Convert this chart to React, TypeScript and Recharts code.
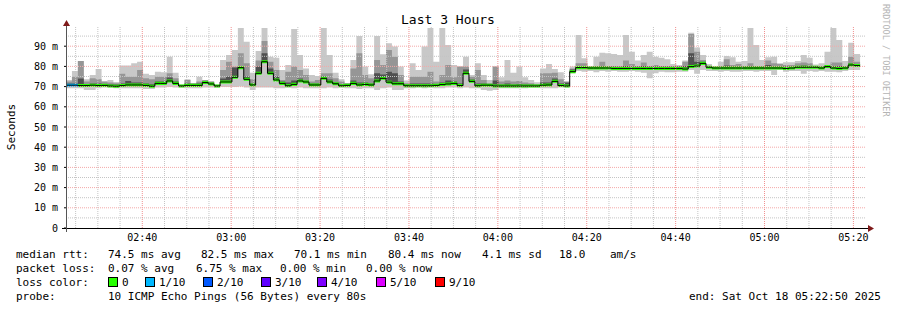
import { ComposedChart, Area, Line, XAxis, YAxis, ReferenceLine } from "recharts";

// 3 hours of 80 s steps, ending Sat Oct 18 05:22:50 2025
const START = 2 * 3600 + 22 * 60 + 50;
const STEP = 80;
const END = START + 3 * 3600;

// median rtt per step (ms)
const median = [
  70.7, 70.7, 70.5, 70.5, 70.7, 70.5, 70.6, 70.3, 70.2, 70.5, 70.8, 70.8, 70.8, 70.6, 70.2, 71.6,
  71.6, 72.8, 71.6, 70.3, 70.6, 70.6, 70.6, 72.0, 71.3, 70.3, 72.3, 72.3, 74.6, 79.4, 73.6, 70.8, 76.6, 82.3,
  76.6, 73.3, 71.6, 70.4, 71.1, 72.8, 72.3, 70.8, 70.8, 74.1, 72.3, 71.4, 70.4, 70.6, 71.6, 70.8, 71.1,
  70.8, 72.8, 74.1, 72.2, 71.4, 71.4, 70.4, 70.4, 70.4, 70.4, 70.4, 70.6, 71.0, 71.3, 71.6, 70.5, 76.6,
  72.6, 70.4, 70.7, 70.7, 70.3, 70.3, 70.3, 70.3, 70.3, 70.3, 70.3, 70.3, 70.7, 70.8, 72.6, 70.5, 70.3,
  77.4, 79.4, 79.4, 79.2, 79.2, 79.2, 79.2, 79.0, 79.0, 79.0, 79.0, 79.0, 79.0, 79.0, 79.0, 79.0,
  79.0, 79.0, 79.0, 78.7, 79.9, 80.2, 81.5, 79.6, 79.2, 79.2, 79.2, 79.2, 79.2, 79.2, 79.2, 79.2, 79.2,
  79.2, 79.2, 79.2, 79.0, 79.2, 79.6, 79.6, 79.6, 79.6, 79.2, 79.9, 79.2, 79.0, 79.2, 80.7, 80.4,
];

// smoke: slowest ping per step (ms)
const smokeMax = [
  73.3, 77.7, 82.7, 73.6, 75.7, 78.7, 72.5, 73.3, 72.3, 80.4, 80.4, 81.5, 82.3, 76.3, 75.7, 77.4,
  77.1, 84.8, 76.9, 71.0, 73.6, 71.6, 74.9, 73.3, 72.5, 71.0, 83.2, 85.6, 88.1, 99.0, 92.2, 76.9, 87.6, 99.0,
  84.8, 84.3, 78.2, 80.7, 98.5, 85.6, 79.0, 75.7, 75.2, 99.0, 85.6, 76.9, 73.6, 71.6, 83.2, 95.0, 79.9,
  76.1, 95.0, 86.0, 91.4, 89.8, 79.9, 73.0, 81.5, 78.2, 89.8, 99.0, 82.3, 99.0, 90.6, 80.7, 79.9, 84.8,
  75.7, 81.5, 75.7, 73.3, 79.9, 74.6, 83.2, 76.9, 79.9, 74.6, 73.3, 72.1, 79.0, 81.2, 78.7, 77.1, 72.8,
  79.9, 95.5, 84.0, 79.9, 84.8, 86.8, 86.5, 86.1, 85.6, 95.5, 87.3, 82.9, 85.6, 87.3, 84.8, 84.3,
  83.5, 81.2, 80.7, 82.9, 96.7, 89.3, 85.6, 81.2, 79.6, 82.3, 85.1, 84.5, 82.3, 82.7, 99.0, 90.6, 83.2,
  84.5, 84.8, 81.5, 82.0, 82.0, 82.7, 85.6, 84.3, 81.0, 81.5, 87.3, 99.0, 93.1, 82.7, 91.7, 86.1,
];

// smoke: upper edge of the middle pings (ms)
const smokeMid = [
  72.5, 74.9, 82.7, 72.5, 74.1, 73.6, 72.5, 72.0, 71.6, 76.3, 74.9, 74.9, 78.2, 74.1, 73.6, 74.9,
  74.9, 76.6, 74.1, 70.8, 73.3, 71.6, 72.5, 73.3, 72.5, 70.8, 78.2, 82.3, 79.9, 86.5, 81.5, 73.6, 82.9, 92.6,
  82.3, 78.2, 73.3, 77.4, 79.9, 78.2, 75.7, 72.5, 73.3, 76.6, 76.6, 74.1, 72.5, 71.6, 79.0, 86.5, 75.7,
  74.1, 83.2, 80.7, 88.1, 84.8, 75.7, 71.6, 74.9, 74.9, 74.9, 77.4, 72.5, 75.7, 80.7, 74.6, 79.9, 79.9,
  74.9, 78.2, 73.3, 71.6, 79.9, 72.5, 73.0, 72.5, 72.8, 72.0, 71.6, 71.3, 76.6, 76.6, 76.9, 73.6, 72.0,
  79.0, 81.5, 81.5, 79.4, 80.2, 82.3, 80.2, 80.2, 79.9, 82.9, 81.2, 80.2, 81.9, 80.2, 80.7, 80.2,
  80.2, 79.9, 80.2, 82.3, 96.0, 87.3, 83.2, 80.2, 79.4, 79.9, 83.5, 80.7, 81.2, 80.2, 81.5, 80.2, 79.9,
  82.9, 81.5, 81.2, 80.7, 80.7, 81.5, 81.9, 81.5, 80.2, 79.9, 80.2, 81.9, 81.9, 80.2, 84.8, 82.3,
];

// smoke: upper edge of the pings next to the median (ms)
const smokeDark = [
  71.5, 71.5, 74.0, 71.3, 71.5, 71.5, 71.3, 71.2, 71.0, 71.5, 72.8, 72.0, 72.0, 71.5, 71.2, 72.5,
  72.5, 74.5, 72.5, 70.8, 71.5, 71.3, 71.5, 72.8, 72.0, 70.8, 74.0, 75.0, 79.4, 80.0, 75.0, 71.5, 79.9, 86.5,
  79.0, 75.0, 72.5, 72.0, 73.0, 74.0, 73.0, 71.5, 71.5, 75.0, 73.5, 72.0, 71.0, 71.2, 73.0, 72.0, 72.0,
  71.5, 76.6, 76.0, 77.4, 76.6, 72.5, 71.0, 71.5, 71.5, 71.5, 71.5, 71.3, 72.0, 73.0, 72.5, 71.5, 78.5,
  73.5, 71.5, 71.5, 71.2, 73.0, 71.0, 71.5, 71.0, 71.3, 71.0, 71.0, 70.8, 72.0, 72.0, 74.0, 71.5, 72.0,
  78.5, 80.0, 80.2, 79.9, 79.9, 80.2, 79.9, 79.9, 79.9, 80.2, 79.9, 79.9, 80.2, 79.9, 79.9, 79.9,
  79.9, 79.9, 79.9, 80.2, 86.5, 82.3, 82.3, 80.2, 79.9, 79.9, 80.4, 79.9, 79.9, 79.9, 80.2, 79.9, 79.9,
  80.7, 79.9, 79.9, 79.9, 79.9, 80.2, 80.4, 80.2, 80.2, 79.9, 80.4, 80.2, 80.2, 79.9, 81.5, 81.2,
];

// smoke: fastest ping per step (ms)
const smokeMin = [
  69.2, 69.2, 69.2, 68.3, 68.3, 69.2, 69.5, 69.5, 69.2, 69.2, 69.2, 69.2, 69.2, 68.8, 68.8, 69.5,
  69.5, 69.8, 69.5, 69.5, 69.2, 69.2, 69.2, 69.5, 69.5, 69.5, 69.8, 69.8, 69.8, 70.0, 69.5, 68.3, 69.5, 69.5,
  69.5, 69.2, 69.2, 69.5, 69.2, 69.5, 69.2, 69.2, 69.2, 69.2, 69.5, 69.2, 69.5, 69.2, 69.2, 68.8, 69.2,
  69.2, 68.3, 69.2, 69.5, 68.3, 68.3, 69.2, 69.2, 69.5, 69.2, 69.5, 69.2, 69.2, 69.5, 69.5, 69.2, 69.5,
  69.2, 69.2, 68.3, 68.0, 68.3, 69.2, 69.2, 69.2, 69.2, 69.2, 69.5, 69.5, 69.2, 69.2, 69.2, 69.5, 69.5,
  76.6, 77.7, 77.4, 77.7, 77.1, 77.7, 77.4, 77.7, 77.4, 77.4, 77.7, 77.4, 76.9, 74.1, 76.6, 77.4,
  77.1, 77.1, 77.4, 77.4, 78.2, 76.3, 78.2, 77.7, 77.7, 77.4, 77.7, 77.4, 77.4, 77.7, 77.7, 77.4, 77.7,
  77.7, 75.7, 78.2, 77.4, 77.7, 77.7, 76.3, 77.7, 77.4, 77.7, 77.4, 77.4, 77.1, 77.7, 78.2, 78.2,
];

// lost pings (out of 10) per step; every step not listed lost none
const lostPings: Record<number, number> = { 0: 1, 1: 1 };

const lossLegend = [
  { label: "0", lost: 0, color: "#26ff00" },
  { label: "1/10", lost: 1, color: "#00b8ff" },
  { label: "2/10", lost: 2, color: "#0059ff" },
  { label: "3/10", lost: 3, color: "#5e00ff" },
  { label: "4/10", lost: 4, color: "#7e00ff" },
  { label: "5/10", lost: 5, color: "#dd00ff" },
  { label: "9/10", lost: 9, color: "#ff0000" },
];

const xTickLabels = ["02:40", "03:00", "03:20", "03:40", "04:00", "04:20", "04:40", "05:00", "05:20"];
const yTicks = [0, 10, 20, 30, 40, 50, 60, 70, 80, 90];

const MONO = "'DejaVu Sans Mono', 'Liberation Mono', monospace";

const toSec = (s: string) => {
  const [h, m] = s.split(":").map(Number);
  return h * 3600 + m * 60;
};
const fmtTime = (v: number) => {
  const h = Math.floor(v / 3600);
  const m = Math.floor((v % 3600) / 60);
  return `${String(h).padStart(2, "0")}:${String(m).padStart(2, "0")}`;
};

const majorX = xTickLabels.map(toSec);
const minorX: number[] = [];
for (let t = Math.ceil(START / 300) * 300; t < END; t += 300) {
  if (!majorX.includes(t)) minorX.push(t);
}
const minorY = [5, 15, 25, 35, 45, 55, 65, 75, 85, 95];
const majorY = yTicks.filter((v) => v > 0);

// one row per step, plus a closing row so the last step gets its width
const n = median.length;
const rows = Array.from({ length: n + 1 }, (_, i) => {
  const k = Math.min(i, n - 1);
  return {
    t: START + i * STEP,
    med: median[k],
    max: smokeMax[k],
    mid: smokeMid[k],
    dark: smokeDark[k],
    min: smokeMin[k],
  };
});

const colorFor = (lost: number) =>
  (lossLegend.find((l) => l.lost === lost) || lossLegend[0]).color;

const lossStops = median.flatMap((_, i) => {
  const c = colorFor(lostPings[i] || 0);
  return [
    <stop key={`a${i}`} offset={i / n} stopColor={c} />,
    <stop key={`b${i}`} offset={(i + 1) / n} stopColor={c} />,
  ];
});

const grid = (color: string) => ({ stroke: color, strokeDasharray: "1 1", strokeWidth: 1 });

const tickFont = { fontFamily: MONO, fontSize: 10, fill: "#000" };

export default function App() {
  return (
    <div style={{ position: "relative", width: 897, height: 310, background: "#fff" }}>
      <style>{"body{margin:0}"}</style>
      <ComposedChart
        width={897}
        height={310}
        data={rows}
        margin={{ top: 26, right: 31, bottom: 62, left: 8 }}
      >
        <defs>
          <linearGradient id="lossFill" x1="0" y1="0" x2="1" y2="0">
            {lossStops}
          </linearGradient>
        </defs>
        <XAxis
          dataKey="t"
          type="number"
          domain={[START, END]}
          allowDataOverflow
          ticks={majorX}
          interval={0}
          tickFormatter={fmtTime}
          height={20}
          axisLine={false}
          tickLine={false}
          tickSize={2}
          tickMargin={4}
          tick={tickFont}
        />
        <YAxis
          type="number"
          domain={[0, 100]}
          allowDataOverflow
          ticks={yTicks}
          interval={0}
          tickFormatter={(v: number) => (v === 0 ? "0" : `${v} m`)}
          width={58}
          axisLine={false}
          tickLine={{ stroke: "#000" }}
          tickSize={2}
          tickMargin={6}
          tick={tickFont}
        />
        <Area
          type="stepAfter"
          dataKey={(d: any) => [d.min, d.max]}
          fill="#c8c8c8"
          fillOpacity={1}
          stroke="none"
          isAnimationActive={false}
        />
        <Area
          type="stepAfter"
          dataKey={(d: any) => [d.med, d.mid]}
          fill="#969696"
          fillOpacity={1}
          stroke="none"
          isAnimationActive={false}
        />
        <Area
          type="stepAfter"
          dataKey={(d: any) => [d.med, d.dark]}
          fill="#505050"
          fillOpacity={1}
          stroke="none"
          isAnimationActive={false}
        />
        {minorX.map((x) => (
          <ReferenceLine key={`vx${x}`} x={x} {...grid("#c4c4c4")} />
        ))}
        {minorY.map((y) => (
          <ReferenceLine key={`hy${y}`} y={y} {...grid("#c4c4c4")} />
        ))}
        {majorX.map((x) => (
          <ReferenceLine key={`VX${x}`} x={x} {...grid("#f09090")} />
        ))}
        {majorY.map((y) => (
          <ReferenceLine key={`HY${y}`} y={y} {...grid("#f4a8a8")} />
        ))}
        <Line
          type="stepAfter"
          dataKey="med"
          stroke="#000"
          strokeWidth={1}
          dot={false}
          activeDot={false}
          isAnimationActive={false}
        />
        <Area
          type="stepAfter"
          dataKey={(d: any) => [d.med - 0.75, d.med + 0.75]}
          fill="url(#lossFill)"
          fillOpacity={1}
          stroke="none"
          isAnimationActive={false}
        />
      </ComposedChart>

      <svg
        width={897}
        height={310}
        style={{ position: "absolute", left: 0, top: 0, pointerEvents: "none" }}
        fontFamily={MONO}
      >
        {/* axes with arrows */}
        <line x1={62} y1={228.5} x2={870} y2={228.5} stroke="#000" />
        <line x1={66.5} y1={232} x2={66.5} y2={24} stroke="#555" />
        <path d="M868,225 L874,228.5 L868,232 Z" fill="#7f1a1a" />
        <path d="M63,26 L66.5,20 L70,26 Z" fill="#7f1a1a" />

        <text x={448} y={24} textAnchor="middle" fontSize={13} fill="#000">
          Last 3 Hours
        </text>
        <text
          x={0}
          y={0}
          transform="translate(15,127) rotate(-90)"
          textAnchor="middle"
          fontSize={11}
          fill="#000"
        >
          Seconds
        </text>
        <text x={0} y={0} transform="translate(883,4) rotate(90)" fontSize={8.5} fill="#b4b4b4">
          RRDTOOL / TOBI OETIKER
        </text>

        <g fontSize={11} fill="#000" style={{ whiteSpace: "pre" }}>
          <text y={258}>
            <tspan x={16}>median rtt:</tspan>
            <tspan x={108}>74.5 ms avg</tspan>
            <tspan x={201}>82.5 ms max</tspan>
            <tspan x={294}>70.1 ms min</tspan>
            <tspan x={388}>80.4 ms now</tspan>
            <tspan x={482}>4.1 ms sd</tspan>
            <tspan x={559}>18.0</tspan>
            <tspan x={610}>am/s</tspan>
          </text>
          <text y={272}>
            <tspan x={16}>packet loss:</tspan>
            <tspan x={108}>0.07 % avg</tspan>
            <tspan x={196}>6.75 % max</tspan>
            <tspan x={280}>0.00 % min</tspan>
            <tspan x={366}>0.00 % now</tspan>
          </text>
          <text x={16} y={286}>loss color:</text>
          {lossLegend.map((l, i) => {
            const widths = [37, 58, 58, 56, 59, 59, 0];
            const x = 108 + widths.slice(0, i).reduce((a, b) => a + b, 0);
            return (
              <g key={l.label}>
                <rect x={x + 0.5} y={277.5} width={9} height={9} fill={l.color} stroke="#000" />
                <text x={x + 14} y={286}>
                  {l.label}
                </text>
              </g>
            );
          })}
          <text y={300}>
            <tspan x={16}>probe:</tspan>
            <tspan x={108}>10 ICMP Echo Pings (56 Bytes) every 80s</tspan>
          </text>
          <text x={881} y={300} textAnchor="end">
            end: Sat Oct 18 05:22:50 2025
          </text>
        </g>
      </svg>
    </div>
  );
}
